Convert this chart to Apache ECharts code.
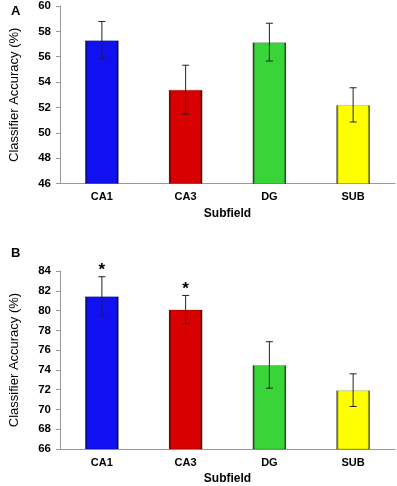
<!DOCTYPE html>
<html>
<head>
<meta charset="utf-8">
<script src="https://cdn.jsdelivr.net/npm/echarts@6/dist/echarts.min.js"></script>
<style>
html, body { margin: 0; padding: 0; background: #fff; }
#chart { width: 397px; height: 486px; }
</style>
</head>
<body>
<div id="chart"></div>
<script>
// subfields and bar colours
var subfields = ['CA1', 'CA3', 'DG', 'SUB']
var barColors = ['#1010f0', '#d80000', '#38d438', '#ffff00']

// panel A
var meanA = [57.3, 53.4, 57.15, 52.2]
var errA = [1.48, 1.93, 1.49, 1.35]
// panel B
var meanB = [81.45, 80.1, 74.5, 71.95]
var errB = [1.97, 1.43, 2.35, 1.65]
var starsB = ['*', '*', '', '']

var FONT = '"Liberation Sans", Arial, sans-serif'

function barSeries (idx, values) {
    return {
        type: 'bar',
        xAxisIndex: idx,
        yAxisIndex: idx,
        barWidth: 34,
        data: values.map(function (v, i) {
            return {
                value: v,
                itemStyle: {
                    color: {
                        type: 'linear', x: 0, y: 0, x2: 1, y2: 0,
                        colorStops: [
                            { offset: 0, color: echarts.color.modifyHSL(barColors[i], null, null, -0.08) },
                            { offset: 0.08, color: barColors[i] },
                            { offset: 0.92, color: barColors[i] },
                            { offset: 1, color: echarts.color.modifyHSL(barColors[i], null, null, -0.08) }
                        ]
                    },
                    borderColor: 'rgba(0,0,0,0.18)',
                    borderWidth: 1
                }
            }
        })
    }
}

function errSeries (idx, values, errs, stars) {
    return {
        type: 'custom',
        xAxisIndex: idx,
        yAxisIndex: idx,
        z: 5,
        data: values.map(function (v, i) {
            return [i, v - errs[i], v + errs[i], stars ? stars[i] : '']
        }),
        renderItem: function (params, api) {
            var lo = api.coord([api.value(0), api.value(1)])
            var hi = api.coord([api.value(0), api.value(2)])
            var cap = 3.5
            var style = { stroke: '#222', lineWidth: 1 }
            var children = [
                { type: 'line', shape: { x1: lo[0], y1: lo[1], x2: hi[0], y2: hi[1] }, style: style },
                { type: 'line', shape: { x1: lo[0] - cap, y1: lo[1], x2: lo[0] + cap, y2: lo[1] }, style: style },
                { type: 'line', shape: { x1: hi[0] - cap, y1: hi[1], x2: hi[0] + cap, y2: hi[1] }, style: style }
            ]
            var star = api.value(3)
            if (star) {
                children.push({
                    type: 'text',
                    style: {
                        text: star, x: hi[0], y: hi[1] - 6,
                        align: 'center', verticalAlign: 'middle',
                        font: 'bold 17px ' + FONT, fill: '#000'
                    }
                })
            }
            return { type: 'group', children: children }
        }
    }
}

function xAxis (idx) {
    return {
        type: 'category',
        gridIndex: idx,
        data: subfields,
        name: 'Subfield',
        nameLocation: 'middle',
        nameGap: 24,
        nameTextStyle: { fontFamily: FONT, fontWeight: 'bold', fontSize: 12, color: '#000' },
        axisLine: { lineStyle: { color: '#999' } },
        axisTick: { length: 4, lineStyle: { color: '#999' } },
        axisLabel: { fontFamily: FONT, fontWeight: 'bold', fontSize: 11, color: '#000', margin: 8 }
    }
}

function yAxis (idx, min, max) {
    return {
        type: 'value',
        gridIndex: idx,
        min: min,
        max: max,
        interval: 2,
        name: 'Classifier Accuracy (%)',
        nameLocation: 'middle',
        nameGap: 39,
        nameTextStyle: { fontFamily: FONT, fontSize: 13, color: '#000' },
        splitLine: { show: false },
        axisLine: { show: true, lineStyle: { color: '#999' } },
        axisTick: { show: true, length: 4, lineStyle: { color: '#999' } },
        axisLabel: { fontFamily: FONT, fontWeight: 'bold', fontSize: 11.5, color: '#000', margin: 9 }
    }
}

var myChart = echarts.init(document.getElementById('chart'), null, { renderer: 'canvas' })
myChart.setOption({
    animation: false,
    backgroundColor: '#fff',
    title: [
        { text: 'A', left: 6, top: 0, textStyle: { fontFamily: FONT, fontWeight: 'bold', fontSize: 13, color: '#000' } },
        { text: 'B', left: 6, top: 242, textStyle: { fontFamily: FONT, fontWeight: 'bold', fontSize: 13, color: '#000' } }
    ],
    grid: [
        { left: 58, right: 2, top: 5, height: 178.5 },
        { left: 58, right: 2, top: 271, height: 178 }
    ],
    xAxis: [xAxis(0), xAxis(1)],
    yAxis: [yAxis(0, 46, 60), yAxis(1, 66, 84)],
    series: [
        barSeries(0, meanA),
        errSeries(0, meanA, errA),
        barSeries(1, meanB),
        errSeries(1, meanB, errB, starsB)
    ]
})
</script>
</body>
</html>
